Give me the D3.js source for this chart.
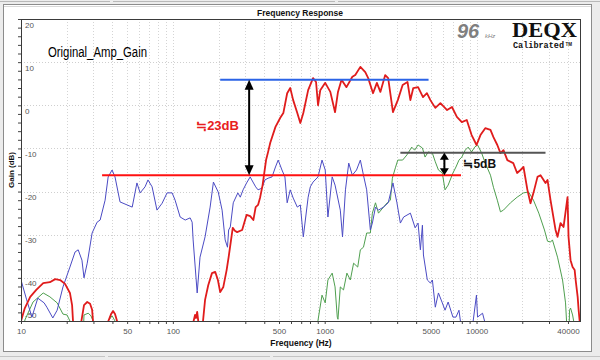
<!DOCTYPE html>
<html><head><meta charset="utf-8">
<script src="https://cdn.jsdelivr.net/npm/d3@7/dist/d3.min.js"></script>
<style>
html,body{margin:0;padding:0;background:#fff;}
svg{display:block;}
</style></head>
<body><div id="chart"></div>
<script>
// ---------------- data (frequency Hz, gain dB) ----------------
const redCurve = [
 [10,-50],[10.6,-47],[11.5,-44.4],[12.6,-42.8],[14,-41.2],[15.5,-41],[16.8,-40.3],[18.1,-40.5],[19.5,-41.4],[21,-43.5],[21.7,-46.3],[22,-50],[22.3,-56],
 [24.6,-56],[25,-50],[26,-46.3],[27.3,-45.6],[28.5,-46],[29.4,-47.4],[29.8,-50],[30.2,-56],
 [37,-56],[37.6,-50],[39.2,-48.4],[40.4,-47.7],[41.6,-48.4],[42.9,-50],[43.3,-56],
 [135,-56],[137,-50],[140,-48.6],[142,-49.3],[144.6,-47.9],[147,-50],[149,-56],
 [156,-56],[158,-50],[163,-45.1],[171,-41.7],[181,-38.9],[190,-38.6],[198,-40.5],[205,-43.3],[215,-42.1],[226,-38.2],[233,-35.2],[248,-28.4],[256,-29.1],[265,-29.4],[286,-28.9],[306,-25.4],[323,-25.7],[339,-26.6],[351,-23.6],[364,-23.1],[376,-21.3],[390,-18.5],[411,-12.7],[424,-10.8],[438,-8.7],[474,-5.0],[510,-2.9],[534,-1.8],[566,2.8],[593,4.0],[620,1.2],[660,-1.8],[691,-4.1],[723,-1.8],[778,3.5],[838,6.3],[877,5.4],[904,0],[935,3.5],[1008,5.2],[1089,3.1],[1170,-1.6],[1223,3.1],[1291,5.9],[1391,4.2],[1521,6.6],[1590,7.0],[1717,8.9],[1850,7.7],[1934,6.3],[2081,2.8],[2206,5.2],[2326,3.1],[2503,7.0],[2618,6.3],[2815,-1.6],[3030,1.2],[3260,4.7],[3510,5.4],[3667,1.2],[3830,4.0],[4120,4.2],[4440,1.9],[4710,2.8],[4967,1.2],[5350,-0.6],[5781,0.5],[6400,-1.1],[6890,-0.4],[7420,-2.7],[8000,-3.9],[8620,-3.4],[9280,-6.9],[10000,-9.2],[10610,-6.9],[11410,-5.3],[12350,-5.7],[12920,-7.4],[13700,-9.2],[14370,-11.1],[15040,-10.4],[15950,-12.7],[17450,-13.4],[18500,-15.7],[19470,-15.0],[20380,-14.3],[21620,-19.6],[22660,-22.7],[23700,-20.3],[25200,-16.6],[26380,-16.2],[28450,-18.0],[29330,-17.3],[30700,-22],[33130,-28.9],[34140,-30.5],[35740,-27.3],[37410,-28.2],[39730,-21.3],[40340,-30.5],[41590,-35.9],[42900,-37.5],[44270,-38.2],[44940,-40.5],[46330,-44.4],[47030,-47.5],[47750,-50],[48000,-56]
];
const blueCurve = [
 [10,-40.5],[10.9,-45.1],[11.8,-49.1],[12.9,-44.7],[14.2,-45.8],[14.8,-46.8],[16.2,-49.3],[17.3,-47.5],[18.9,-42.1],[21,-37.5],[22.7,-34.0],[23.8,-33.5],[25.2,-35.9],[26,-40.0],[27.3,-36.6],[29.4,-29.6],[31.7,-27.1],[33.2,-26.6],[35.8,-22.0],[37.5,-16.6],[39.8,-15.0],[41.6,-16.6],[44.9,-22.4],[50,-23.1],[54,-23.6],[58,-18.0],[60.9,-20.3],[65.6,-18.9],[68.6,-17.3],[73,-18.9],[78.6,-24.3],[85,-22.7],[91.6,-20.3],[98.9,-20.3],[103.5,-22.0],[111.7,-25.9],[120.6,-26.6],[130,-26.1],[134,-27.1],[136,-31.2],[144.6,-43.5],[151,-35.2],[163,-30.5],[176,-23.6],[185,-17.8],[199,-20.1],[211,-24.3],[221,-31.2],[229,-32.9],[233,-28.9],[239,-28.2],[250,-22.6],[268,-20.3],[278,-21.3],[290,-19.6],[306,-18.0],[323,-16.6],[331,-17.3],[351,-18.9],[364,-19.6],[386,-19.2],[404,-17.3],[424,-16.9],[450,-16.6],[474,-14.3],[494,-12.7],[523,-15.0],[547,-16.6],[566,-22.6],[593,-19.6],[620,-21.5],[660,-23.6],[691,-23.1],[723,-30.5],[778,-21.3],[804,-18.9],[838,-17.8],[904,-16.6],[960,-12.7],[1008,-15.0],[1050,-25.9],[1120,-16.6],[1170,-18.5],[1267,-24.3],[1310,-30.5],[1370,-19.6],[1440,-13.4],[1520,-16.2],[1620,-15.0],[1717,-12.7],[1800,-16.2],[1890,-19.6],[1998,-28.9],[2060,-27.3],[2160,-23.6],[2260,-24.3],[2440,-23.6],[2620,-22.6],[2815,-18.0],[2990,-22.6],[3150,-27.3],[3310,-25.9],[3667,-25.0],[3940,-28.4],[4120,-27.3],[4268,-33.5],[4400,-27.8],[4470,-34.7],[4740,-40.5],[4967,-41.2],[5120,-40.5],[5350,-46.8],[5610,-43.5],[5950,-45.8],[6200,-47.5],[6500,-45.6],[6990,-49.1],[7320,-49.1],[7660,-47.5],[7830,-50],[7950,-56],
 [9350,-56],[9500,-50],[9986,-44],[10150,-49.1],[10950,-48.2],[11290,-50],[11450,-56]
];
const greenCurve = [
 [10.4,-56],[10.6,-49.8],[12,-45.6],[14,-43.5],[15.5,-44.4],[17.3,-45.8],[18.9,-48.4],[20.1,-48.6],[21,-50],[21.4,-56],
 [25.5,-56],[26,-48.6],[27.7,-48.2],[28.9,-48.8],[29.8,-50],[30.2,-56],
 [37,-56],[37.5,-50],[39.8,-48.8],[41.6,-50],[42,-56],
 [880,-56],[904,-49.8],[960,-44.0],[1008,-45.8],[1050,-40.5],[1120,-38.9],[1170,-42.1],[1210,-49.1],[1223,-49.6],[1267,-42.1],[1330,-42.8],[1400,-38.9],[1475,-40.5],[1550,-36.6],[1650,-37.5],[1717,-33.5],[1800,-32.9],[1890,-29.6],[1998,-29.6],[2060,-25.0],[2160,-22.6],[2260,-25.0],[2440,-23.6],[2580,-22.6],[2707,-22.0],[2790,-16.9],[2920,-14.5],[3030,-12.7],[3260,-12.7],[3480,-11.5],[3740,-9.7],[3910,-10.4],[4120,-9.2],[4400,-9.9],[4580,-12.0],[4810,-10.8],[5120,-11.1],[5350,-13.1],[5610,-15.0],[5950,-15.7],[6200,-19.6],[6500,-18.5],[6990,-15.7],[7320,-14.3],[7660,-12.7],[8000,-12.0],[8420,-10.4],[8810,-9.7],[9280,-10.8],[9720,-9.7],[10160,-9.2],[10810,-11.1],[11410,-13.4],[12350,-16.2],[12920,-19.0],[13700,-22.0],[14370,-24.7],[15040,-24.3],[16730,-22.6],[18500,-21.3],[20380,-20.3],[22000,-20.1],[23700,-22.0],[25700,-25.0],[28000,-28.9],[29330,-31.5],[30700,-31.7],[31600,-31.2],[34140,-35.2],[36840,-40.5],[38550,-45.8],[39140,-50],[39500,-56],
 [40500,-56],[40950,-47.5],[41590,-47],[42900,-48.6],[43600,-50],[44000,-56]
];
// annotation reference levels
const refHigh = {f1:205, f2:4830, gain:5.9};      // blue level line
const refLow  = {f1:34.2, f2:7900, gain:-16.2};   // red level line
const refMid  = {f1:3150, f2:28450, gain:-11.0};  // grey level line
const arrowBig = {f:318, from:5.9, to:-16.2, label:"≒23dB"};
const arrowSmall = {f:6140, from:-11.0, to:-16.2, label:"≒5dB"};
// axes
const xDomain = [10, 48000];
const yDomain = [-50, 20];
const xTickLabels = [10, 50, 100, 500, 1000, 5000, 10000, 40000];
const yTickLabels = [20, 10, 0, -10, -20, -30, -40, -50];
const chartTitle = "Frequency Response";
const xTitle = "Frequency (Hz)";
const yTitle = "Gain (dB)";
const chartNote = "Original_Amp_Gain";

// ---------------- drawing ----------------
const W = 600, H = 360;
const L = 21, R = 580, T = 19, B = 321;
const svg = d3.select("#chart").append("svg").attr("width", W).attr("height", H);

// window chrome
svg.append("rect").attr("x",0).attr("y",0).attr("width",W).attr("height",H).attr("fill","#ececec");
svg.append("rect").attr("x",3.5).attr("y",4.5).attr("width",588).attr("height",347).attr("fill","#fff").attr("stroke","#8c8c8c");
svg.append("line").attr("x1",4).attr("x2",591).attr("y1",6.5).attr("y2",6.5).attr("stroke","#d8d8d8");
[[0,110],[113,335],[338,600]].forEach(s=>{
  svg.append("line").attr("x1",s[0]).attr("x2",s[1]).attr("y1",1.5).attr("y2",1.5).attr("stroke","#b8b8b8");
});
[[0,105],[108,270],[273,600]].forEach(s=>{
  svg.append("line").attr("x1",s[0]).attr("x2",s[1]).attr("y1",356.5).attr("y2",356.5).attr("stroke","#c4c4c4");
});

const x = d3.scaleLog().domain(xDomain).range([L, R]);
const y = d3.scaleLinear().domain(yDomain).range([B, T]);

// grid
const minorFreqs = [];
[10,100,1000,10000].forEach(d => { for (let m=1;m<=9;m++){ const v=d*m; if (v>=xDomain[0] && v<=xDomain[1]) minorFreqs.push(v);} });
const grid = svg.append("g");
grid.selectAll("line.v").data(minorFreqs.filter(v=>v>10)).join("line")
  .attr("x1",d=>Math.round(x(d))+0.5).attr("x2",d=>Math.round(x(d))+0.5)
  .attr("y1",T).attr("y2",B).attr("stroke","#d4d4d4").attr("stroke-dasharray","1,2");
grid.selectAll("line.h").data(d3.range(-40,20,10)).join("line")
  .attr("x1",L).attr("x2",R).attr("y1",d=>Math.round(y(d))+0.5).attr("y2",d=>Math.round(y(d))+0.5)
  .attr("stroke","#cfcfcf").attr("stroke-dasharray","1,2");

// axes ticks
const xAxis = d3.axisBottom(x).tickValues(minorFreqs).tickSize(3)
  .tickFormat(d => xTickLabels.includes(d) ? String(d) : "");
const gx = svg.append("g").attr("transform",`translate(0,${B})`).call(xAxis);
gx.select(".domain").remove();
gx.selectAll(".tick line").attr("stroke","#444");
gx.selectAll(".tick text").attr("fill","#555").attr("font-size",8).attr("font-family","Liberation Sans, Arial, sans-serif").attr("dy","0.9em");

const yAxis = d3.axisLeft(y).tickValues(d3.range(-50,21,2)).tickSize(3).tickFormat("");
const gy = svg.append("g").attr("transform",`translate(${L},0)`).call(yAxis);
gy.select(".domain").remove();
gy.selectAll(".tick line").attr("stroke","#444");
svg.append("g").selectAll("text").data(yTickLabels).join("text")
  .attr("x", L+4)
  .attr("y", d => (y(d)+9 > B-2) ? y(d)-3 : y(d)+8.5)
  .attr("fill","#555").attr("font-size",8).attr("font-family","Liberation Sans, Arial, sans-serif")
  .text(d=>d);

// curves
const clip = svg.append("clipPath").attr("id","plotclip");
clip.append("rect").attr("x",L).attr("y",T).attr("width",R-L+1).attr("height",B-T);
const line = d3.line().x(d=>x(d[0])).y(d=>y(d[1]));
const curves = svg.append("g").attr("clip-path","url(#plotclip)");
curves.append("path").datum(greenCurve).attr("d",line).attr("fill","none").attr("stroke","#4f9f4f").attr("stroke-width",1);
curves.append("path").datum(blueCurve).attr("d",line).attr("fill","none").attr("stroke","#4b4bc4").attr("stroke-width",1);
curves.append("path").datum(redCurve).attr("d",line).attr("fill","none").attr("stroke","#e01c1c").attr("stroke-width",1.8).attr("stroke-linejoin","round");

// plot frame
svg.append("rect").attr("x",L+0.5).attr("y",T+0.5).attr("width",R-L).attr("height",B-T).attr("fill","none").attr("stroke","#3a3a3a");

// annotations
const ann = svg.append("g");
function hline(r, color){
  ann.append("line").attr("x1",x(r.f1)).attr("x2",x(r.f2)).attr("y1",y(r.gain)).attr("y2",y(r.gain))
    .attr("stroke",color).attr("stroke-width",2);
}
hline(refMid,"#555555");
hline(refHigh,"#2b63e6");
hline(refLow,"#ff1010");
function arrow(a, headW, headL){
  const ax = x(a.f), y1 = y(a.from), y2 = y(a.to);
  ann.append("line").attr("x1",ax).attr("x2",ax).attr("y1",y1+headL-1).attr("y2",y2-headL+1).attr("stroke","#000").attr("stroke-width",2);
  ann.append("path").attr("d",`M${ax},${y1}L${ax-headW/2},${y1+headL}L${ax+headW/2},${y1+headL}Z`).attr("fill","#000");
  ann.append("path").attr("d",`M${ax},${y2}L${ax-headW/2},${y2-headL}L${ax+headW/2},${y2-headL}Z`).attr("fill","#000");
}
arrow(arrowBig, 9, 10);
arrow(arrowSmall, 9, 7);
ann.append("text").attr("x", x(arrowBig.f)-53).attr("y", 130)
  .attr("fill","#e82020").attr("font-size",13).attr("font-weight","bold")
  .attr("font-family","Liberation Sans, Arial, 'Noto Sans CJK JP', sans-serif").text(arrowBig.label);
ann.append("text").attr("x", x(arrowSmall.f)+19).attr("y", 168)
  .attr("fill","#111").attr("font-size",12).attr("font-weight","bold")
  .attr("font-family","Liberation Sans, Arial, 'Noto Sans CJK JP', sans-serif").text(arrowSmall.label);

// texts
svg.append("text").attr("x",300).attr("y",16).attr("text-anchor","middle").attr("font-size",8.5).attr("font-weight","bold")
  .attr("font-family","Liberation Sans, Arial, sans-serif").attr("fill","#111").text(chartTitle);
svg.append("text").attr("x",301).attr("y",346).attr("text-anchor","middle").attr("font-size",8.5).attr("font-weight","bold")
  .attr("font-family","Liberation Sans, Arial, sans-serif").attr("fill","#111").text(xTitle);
svg.append("text").attr("transform","translate(14,170) rotate(-90)").attr("text-anchor","middle").attr("font-size",8).attr("font-weight","bold")
  .attr("font-family","Liberation Sans, Arial, sans-serif").attr("fill","#111").text(yTitle);
svg.append("text").attr("x",48).attr("y",57).attr("font-size",14).attr("textLength",99).attr("lengthAdjust","spacingAndGlyphs")
  .attr("font-family","Liberation Sans, Arial, sans-serif").attr("fill","#000").text(chartNote);

// logo
svg.append("text").attr("x",457).attr("y",38).attr("font-size",20).attr("font-weight","bold").attr("font-style","italic")
  .attr("font-family","Liberation Sans, Arial, sans-serif").attr("fill","#7f7f7f").text("96");
svg.append("text").attr("x",485).attr("y",38).attr("font-size",6).attr("font-style","italic")
  .attr("font-family","Liberation Sans, Arial, sans-serif").attr("fill","#7f7f7f").text("kHz");
svg.append("text").attr("x",512).attr("y",36.5).attr("font-size",20).attr("font-weight","bold").attr("textLength",65).attr("lengthAdjust","spacingAndGlyphs")
  .attr("font-family","Liberation Serif, 'Times New Roman', serif").attr("fill","#111").text("DEQX");
svg.append("text").attr("x",513).attr("y",48).attr("font-size",9).attr("font-weight","bold").attr("textLength",51).attr("lengthAdjust","spacingAndGlyphs")
  .attr("font-family","Liberation Mono, 'DejaVu Sans Mono', monospace").attr("fill","#111").text("Calibrated");
svg.append("text").attr("x",565.5).attr("y",46).attr("font-size",4.5).attr("font-weight","bold")
  .attr("font-family","Liberation Sans, Arial, sans-serif").attr("fill","#111").text("TM");
</script>
</body></html>
